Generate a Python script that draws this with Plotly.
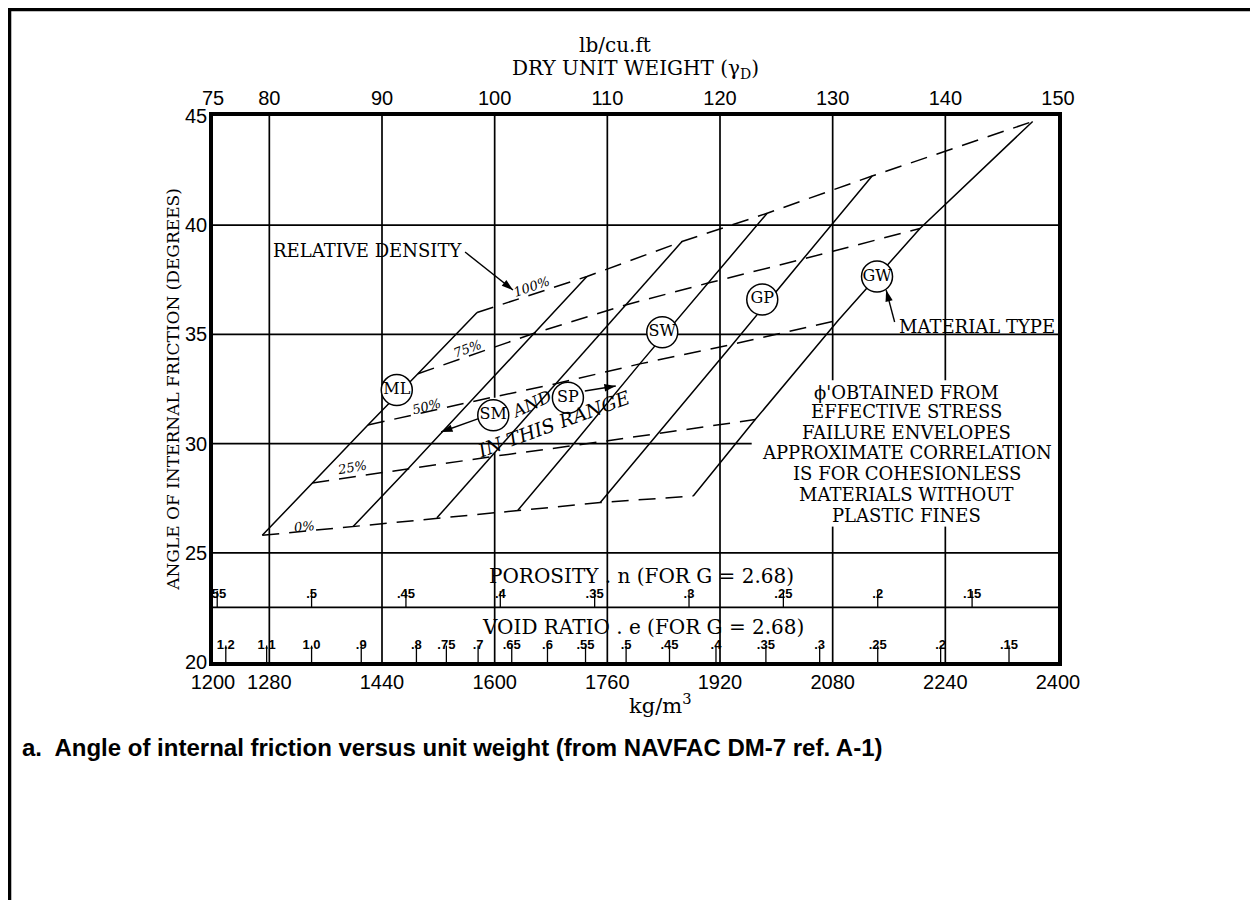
import plotly.graph_objects as go

# ---------------- axis values ----------------
kg_ticks = [1200, 1280, 1440, 1600, 1760, 1920, 2080, 2240, 2400]
lb_ticks = [75, 80, 90, 100, 110, 120, 130, 140, 150]
phi_ticks = [20, 25, 30, 35, 40, 45]
grid_kg = [1280, 1440, 1600, 1760, 1920, 2080, 2240]
grid_phi = [25, 30, 35, 40]
scale_split_phi = 22.5

# ---------------- correlation lines (dry unit weight kg/m3, phi deg) at relative density 0,25,50,75,100 % ----------------
densities = ["0%", "25%", "50%", "75%", "100%"]
ml_wt = [1270, 1341, 1420, 1491, 1575]
ml_phi = [25.8, 28.2, 30.85, 33.2, 36.0]
sm_wt = [1399, 1477, 1565, 1656, 1731]
sm_phi = [26.2, 28.85, 31.9, 35.05, 37.65]
sp_wt = [1518, 1595, 1688, 1786, 1866]
sp_phi = [26.6, 29.4, 32.75, 36.35, 39.25]
sw_wt = [1633, 1710, 1806, 1903, 1987]
sw_phi = [26.95, 29.9, 33.65, 37.35, 40.55]
gp_wt = [1750, 1832, 1938, 2038, 2136]
gp_phi = [27.3, 30.45, 34.55, 38.45, 42.25]
gw_wt = [1882, 1970, 2088, 2204, 2364]
gw_phi = [27.6, 31.1, 35.65, 39.85, 44.75]

# material type circles
material_labels = ["ML", "SM", "SP", "SW", "GP", "GW"]
label_wt = [1461, 1598, 1704, 1838, 1980, 2143]
label_phi = [32.45, 31.3, 32.1, 35.1, 36.6, 37.65]

# porosity / void ratio scales (G = 2.68)
G = 2.68
porosity_labels = [".55", ".5", ".45", ".4", ".35", ".3", ".25", ".2", ".15"]
porosity_vals = [0.55, 0.5, 0.45, 0.4, 0.35, 0.3, 0.25, 0.2, 0.15]
void_labels = ["1.2", "1.1", "1.0", ".9", ".8", ".75", ".7", ".65", ".6", ".55",
               ".5", ".45", ".4", ".35", ".3", ".25", ".2", ".15"]
void_vals = [1.2, 1.1, 1.0, 0.9, 0.8, 0.75, 0.7, 0.65, 0.6, 0.55,
             0.5, 0.45, 0.4, 0.35, 0.3, 0.25, 0.2, 0.15]

SERIF = "DejaVu Serif"
SANS = "Liberation Sans"

all_wt = [ml_wt, sm_wt, sp_wt, sw_wt, gp_wt, gw_wt]
all_phi = [ml_phi, sm_phi, sp_phi, sw_phi, gp_phi, gw_phi]

fig = go.Figure()

# solid material lines
for wt, ph in zip(all_wt, all_phi):
    fig.add_trace(go.Scatter(x=wt, y=ph, mode="lines",
                             line=dict(color="black", width=1.5),
                             hoverinfo="skip", showlegend=False))
# dashed relative density lines
for j, d in enumerate(densities):
    fig.add_trace(go.Scatter(x=[w[j] for w in all_wt], y=[p[j] for p in all_phi],
                             mode="lines", line=dict(color="black", width=1.5, dash="17px,10px"),
                             hoverinfo="skip", showlegend=False))

# porosity ticks
px_, py_ = [], []
for n in porosity_vals:
    x = G * 1000 * (1 - n)
    px_ += [x, x, None]
    py_ += [scale_split_phi, scale_split_phi + 0.75, None]
fig.add_trace(go.Scatter(x=px_, y=py_, mode="lines", line=dict(color="black", width=1.3),
                         hoverinfo="skip", showlegend=False))
fig.add_trace(go.Scatter(x=[G * 1000 * (1 - n) for n in porosity_vals],
                         y=[scale_split_phi + 0.6] * len(porosity_vals),
                         mode="text", text=porosity_labels,
                         textfont=dict(family=SANS, size=13, color="black", weight="bold"),
                         hoverinfo="skip", showlegend=False))
# void ratio ticks
vx_, vy_ = [], []
for e in void_vals:
    x = G * 1000 / (1 + e)
    vx_ += [x, x, None]
    vy_ += [20, 20.75, None]
fig.add_trace(go.Scatter(x=vx_, y=vy_, mode="lines", line=dict(color="black", width=1.3),
                         hoverinfo="skip", showlegend=False))
fig.add_trace(go.Scatter(x=[G * 1000 / (1 + e) for e in void_vals],
                         y=[20.75] * len(void_vals),
                         mode="text", text=void_labels,
                         textfont=dict(family=SANS, size=13, color="black", weight="bold"),
                         hoverinfo="skip", showlegend=False))

# pointer arrows (tail -> tip)
arrow_tails = [(1558, 38.77), (1579, 31.17), (1728, 32.41), (2168, 35.57)]
arrow_tips = [(1626, 37.03), (1524, 30.53), (1772, 32.64), (2156, 37.03)]
for (tx, ty), (hx, hy) in zip(arrow_tails, arrow_tips):
    fig.add_trace(go.Scatter(x=[tx, hx], y=[ty, hy], mode="lines",
                             line=dict(color="black", width=1.4),
                             hoverinfo="skip", showlegend=False))
    fig.add_trace(go.Scatter(x=[tx, hx], y=[ty, hy], mode="markers",
                             marker=dict(symbol="arrow", size=12, angleref="previous", color="black",
                                         opacity=[0, 1]),
                             hoverinfo="skip", showlegend=False))

# material circles
fig.add_trace(go.Scatter(x=label_wt, y=label_phi, mode="markers+text", text=material_labels,
                         textposition="middle center",
                         marker=dict(symbol="circle", size=31, color="white",
                                     line=dict(color="black", width=1.5)),
                         textfont=dict(family=SERIF, size=16, color="black"),
                         hoverinfo="skip", showlegend=False))

# dummy trace for top axis
fig.add_trace(go.Scatter(x=[75], y=[20], xaxis="x2", mode="markers",
                         marker=dict(opacity=0), hoverinfo="skip", showlegend=False))

# ---------------- grid lines ----------------
gaps = {1600: (29.6, 32.1), 2080: (26.2, 32.9), 2240: (26.2, 32.9)}
shapes = []
for g in grid_kg:
    if g in gaps:
        lo, hi = gaps[g]
        segs = [(20, lo), (hi, 45)]
    else:
        segs = [(20, 45)]
    for a, b in segs:
        shapes.append(dict(type="line", xref="x", yref="y", x0=g, x1=g, y0=a, y1=b,
                           line=dict(color="black", width=1.7), layer="below"))
for h in grid_phi:
    x1 = 1965 if h == 30 else 2400
    shapes.append(dict(type="line", xref="x", yref="y", x0=1200, x1=x1, y0=h, y1=h,
                       line=dict(color="black", width=1.7), layer="below"))
shapes.append(dict(type="line", xref="x", yref="y", x0=1200, x1=2400,
                   y0=scale_split_phi, y1=scale_split_phi,
                   line=dict(color="black", width=1.7), layer="below"))
# page frame
shapes.append(dict(type="line", xref="paper", yref="paper", x0=-0.2426, x1=1.24, y0=1.195, y1=1.195,
                   line=dict(color="black", width=3.5)))
shapes.append(dict(type="line", xref="paper", yref="paper", x0=-0.2408, x1=-0.2408, y0=1.2, y1=-0.44,
                   line=dict(color="black", width=3.5)))

# ---------------- annotations ----------------
ann = []
def txt(x, y, t, size=18, angle=0, xanchor="center", italic=False, family=SERIF, xref="x", yref="y"):
    if italic:
        t = "<i>" + t + "</i>"
    ann.append(dict(x=x, y=y, xref=xref, yref=yref, text=t, showarrow=False, textangle=angle,
                    xanchor=xanchor, yanchor="middle", font=dict(family=family, size=size, color="black")))

txt(1283, 38.86, "RELATIVE DENSITY", xanchor="left")
txt(1653, 37.2, "100%", size=13, angle=-19, italic=True)
txt(1562, 34.35, "75%", size=13, angle=-20, italic=True)
txt(1503, 31.72, "50%", size=13, angle=-15, italic=True)
txt(1397, 28.92, "25%", size=13, angle=-10, italic=True)
txt(1330, 26.22, "0%", size=13, angle=-6, italic=True)
txt(1652, 31.8, "AND", size=17, angle=-25, italic=True)
txt(1683, 30.9, "IN THIS RANGE", size=19, angle=-20, italic=True)
txt(2171, 35.34, "MATERIAL TYPE", xanchor="left")
block_lines = ["ϕ'OBTAINED FROM", "EFFECTIVE STRESS", "FAILURE ENVELOPES", "APPROXIMATE CORRELATION",
               "IS FOR COHESIONLESS", "MATERIALS WITHOUT", "PLASTIC FINES"]
block_phi = [32.36, 31.45, 30.53, 29.57, 28.65, 27.65, 26.73]
for t, yv in zip(block_lines, block_phi):
    txt(2185, yv, t, size=18)
txt(1808, 23.94, "POROSITY . n (FOR G = 2.68)", size=20)
txt(1810, 21.6, "VOID RATIO . e (FOR G = 2.68)", size=20)
txt(0.529, -0.077, "kg/m<sup>3</sup>", size=21, xref="paper", yref="paper")
txt(-0.2284, -0.1575, "<b>a.  Angle of internal friction versus unit weight (from NAVFAC DM-7 ref. A-1)</b>",
    size=24, family=SANS, xanchor="left", xref="paper", yref="paper")

tickfont = dict(family=SANS, size=20, color="black")
fig.update_layout(
    width=1250, height=892, autosize=False,
    margin=dict(l=205, r=200, t=108, b=238),
    paper_bgcolor="white", plot_bgcolor="white",
    title=dict(text="lb/cu.ft", x=0.4856, y=0.9585, xref="container", yref="container",
               xanchor="center", yanchor="middle", font=dict(family=SERIF, size=20, color="black")),
    xaxis=dict(range=[1200, 2400], tickvals=kg_ticks, ticktext=[str(v) for v in kg_ticks],
               showgrid=False, zeroline=False, showline=True, mirror=True, linewidth=3.5,
               linecolor="black", ticks="", ticklen=0, tickfont=tickfont, ticklabelstandoff=-1),
    xaxis2=dict(range=[75, 150], overlaying="x", side="top", tickvals=lb_ticks,
                ticktext=[str(v) for v in lb_ticks], showgrid=False, zeroline=False,
                showline=False, ticks="", tickfont=tickfont, ticklabelstandoff=6,
                title=dict(text="DRY UNIT WEIGHT (γ<sub>D</sub>)", standoff=6,
                           font=dict(family=SERIF, size=20, color="black"))),
    yaxis=dict(range=[20, 45], tickvals=phi_ticks, ticktext=[str(v) for v in phi_ticks],
               showgrid=False, zeroline=False, showline=True, mirror=True, linewidth=3.5,
               linecolor="black", ticks="", ticklen=0, tickfont=tickfont, ticklabelstandoff=-2,
               title=dict(text="ANGLE OF INTERNAL FRICTION (DEGREES)", standoff=2,
                          font=dict(family=SERIF, size=17, color="black"))),
    shapes=shapes, annotations=ann, showlegend=False,
)

fig.write_html("out.html")
